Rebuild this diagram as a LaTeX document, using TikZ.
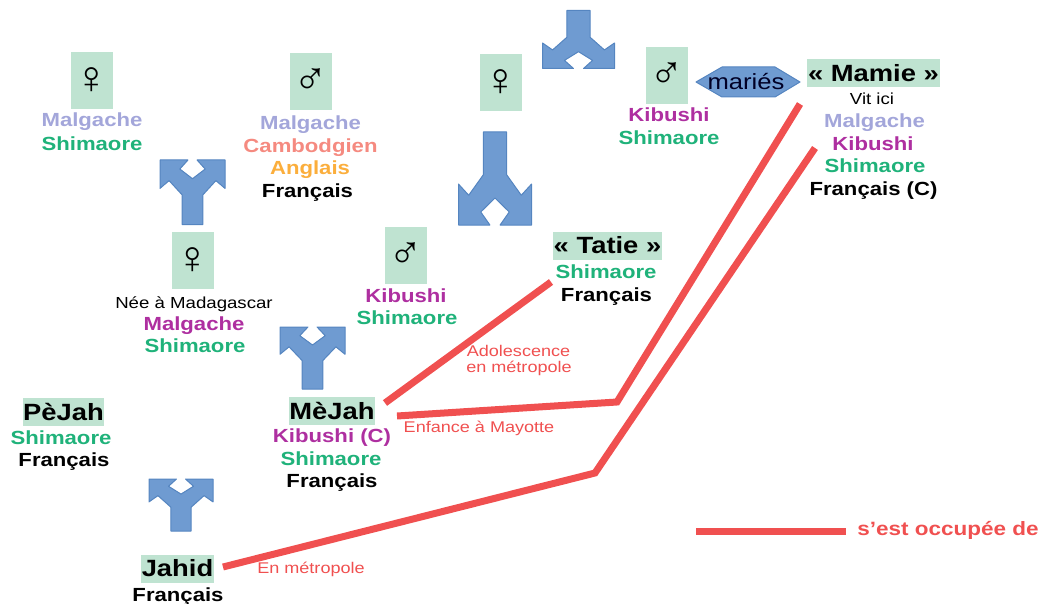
\documentclass[tikz,border=0pt]{standalone}
\usepackage{fontspec}
\setmainfont{Liberation Sans}
\newfontfamily\widefont[FakeStretch=1.165]{Liberation Sans}
\definecolor{boxgreen}{HTML}{BFE3D1}
\definecolor{forkblue}{HTML}{6F9BD1}
\definecolor{forkedge}{HTML}{5585C0}
\definecolor{redline}{HTML}{F05050}
\definecolor{cMalgache}{HTML}{A3A6DA}
\definecolor{cCambodgien}{HTML}{F58A80}
\definecolor{cAnglais}{HTML}{FBAE3C}
\definecolor{cKibushi}{HTML}{AE2FA0}
\definecolor{cShimaore}{HTML}{1FB27A}
\tikzset{
  lang/.style={anchor=base,inner sep=0pt,font=\widefont\fontsize{19}{22}\selectfont\bfseries},
  malgache/.style={lang,text=cMalgache},
  cambodgien/.style={lang,text=cCambodgien},
  anglais/.style={lang,text=cAnglais},
  kibushi/.style={lang,text=cKibushi},
  shimaore/.style={lang,text=cShimaore},
  francais/.style={lang,text=black},
  note/.style={anchor=base,inner sep=0pt,font=\widefont\fontsize{16}{18}\selectfont,text=black},
  symbox/.style={fill=boxgreen,inner sep=0pt,minimum width=42pt,minimum height=57pt,font=\fontsize{46}{48}\selectfont},
  namebox/.style={fill=boxgreen,inner sep=0pt,minimum height=28pt,font=\widefont\fontsize{23.5}{26}\selectfont\bfseries},
  redl/.style={draw=redline,line width=7pt},
  redt/.style={anchor=base,inner sep=0pt,text=redline,font=\widefont\fontsize{15.5}{17}\selectfont},
  forkst/.style={fill=forkblue,draw=forkedge,line width=1pt,line join=round}
}
\newcommand{\forkpath}[4]{%
  \begin{scope}[shift={(#1,#2)},x=#3pt,y=#4pt]
    \path[forkst] (-.32,0) -- (.32,0) -- (.32,.46) -- (.72,.68) -- (1,.56) -- (1,1) -- (.14,1) -- (.39,.86) -- (0,.71) -- (-.39,.86) -- (-.14,1) -- (-1,1) -- (-1,.56) -- (-.72,.68) -- (-.32,.46) -- cycle;
  \end{scope}}
\begin{document}
\begin{tikzpicture}[x=1pt,y=-1pt]
\useasboundingbox (0,0) rectangle (1040,604);
% forks
\forkpath{578.5}{10.5}{36}{-58}
\forkpath{495}{132}{36.5}{-93}
\forkpath{192.5}{224.5}{32.5}{64.5}
\forkpath{312.5}{389}{32.5}{62}
\forkpath{181}{531}{32}{52}
% hexagon
\path[forkst] (696,82) -- (722,67) -- (775,67) -- (800,82) -- (775,97) -- (722,97) -- cycle;
\node[inner sep=0pt,font=\widefont\fontsize{22}{24}\selectfont,text=black!85!blue] (maries) at (746,82) {mariés};
% symbol boxes
\node[symbox] (f1) at (92,81) {♀};
\node[symbox] (m1) at (310.5,82) {♂};
\node[symbox] (f2) at (501,82.5) {♀};
\node[symbox] (m2) at (667,75.5) {♂};
\node[symbox] (f3) at (193,260.5) {♀};
\node[symbox] (m3) at (406,255.5) {♂};
% name boxes
\node[namebox,minimum width=133pt] (mamie) at (873.5,73) {« Mamie »};
\node[namebox,minimum width=109pt] (tatie) at (607.5,245.5) {« Tatie »};
\node[namebox,minimum width=86pt] (mejah) at (332,410.5) {MèJah};
\node[namebox,minimum width=81pt] (pejah) at (63.5,411.5) {PèJah};
\node[namebox,minimum width=73pt] (jahid) at (177.5,568.5) {Jahid};
% languages
\node[malgache] (t1) at (92,127) {Malgache};
\node[shimaore] (t2) at (92,150.5) {Shimaore};
\node[malgache] (t3) at (310.5,130) {Malgache};
\node[cambodgien] (t4) at (310.5,152.5) {Cambodgien};
\node[anglais] (t5) at (310,175) {Anglais};
\node[francais] (t6) at (307.5,197) {Français};
\node[kibushi] (t7) at (669,122) {Kibushi};
\node[shimaore] (t8) at (669,144.5) {Shimaore};
\node[note] (t9) at (872,105) {Vit ici};
\node[malgache] (t10) at (874.5,128) {Malgache};
\node[kibushi] (t11) at (873,150.5) {Kibushi};
\node[shimaore] (t12) at (875,172.5) {Shimaore};
\node[francais] (t13) at (873.5,195) {Français (C)};
\node[shimaore] (t14) at (606,278.5) {Shimaore};
\node[francais] (t15) at (606.5,301) {Français};
\node[note] (t16) at (194,308) {Née à Madagascar};
\node[kibushi] (t17) at (194,330.5) {Malgache};
\node[shimaore] (t18) at (195,352.5) {Shimaore};
\node[kibushi] (t19) at (406,302.5) {Kibushi};
\node[shimaore] (t20) at (407,324.5) {Shimaore};
\node[kibushi] (t21) at (332,442.5) {Kibushi (C)};
\node[shimaore] (t22) at (331,465) {Shimaore};
\node[francais] (t23) at (332,487) {Français};
\node[shimaore] (t24) at (61,444.5) {Shimaore};
\node[francais] (t25) at (64,466) {Français};
\node[francais] (t26) at (178,601) {Français};
% red connectors
\coordinate (a1) at (385,403);
\coordinate (a2) at (551,282);
\coordinate (b1) at (397,416);
\coordinate (b2) at (617,402);
\coordinate (b3) at (800,104);
\coordinate (c1) at (223,567);
\coordinate (c2) at (595,473);
\coordinate (c3) at (815,148);
\coordinate (l1) at (696,531);
\coordinate (l2) at (846,531);
\draw[redl] (a1) -- (a2);
\draw[redl] (b1) -- (b2) -- (b3);
\draw[redl] (c1) -- (c2) -- (c3);
\draw[redl] (l1) -- (l2);
\node[redt] (r1) at (518.5,356) {Adolescence};
\node[redt] (r2) at (519,372.5) {en métropole};
\node[redt] (r3) at (479,432.5) {Enfance à Mayotte};
\node[redt] (r4) at (311,573) {En métropole};
\node[anchor=base,inner sep=0pt,text=redline,font=\widefont\fontsize{19.3}{20}\selectfont\bfseries] (r5) at (948,535) {s’est occupée de};
\end{tikzpicture}
\end{document}
